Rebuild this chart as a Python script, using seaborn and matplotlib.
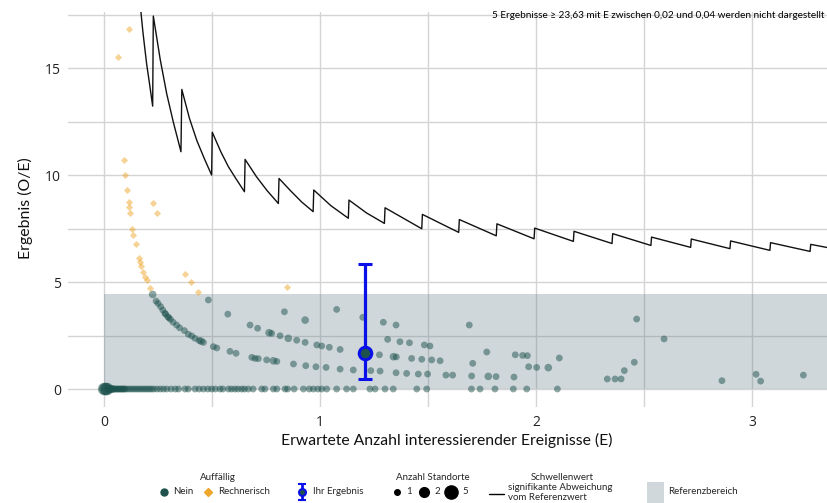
import numpy as np
import pandas as pd
import matplotlib
matplotlib.use("Agg")
import matplotlib.pyplot as plt
import seaborn as sns
from matplotlib.patches import Rectangle

# ---------------- data ----------------
# hospitals "Nein" (not conspicuous) with O/E > 0
nein_E = [0.225, 0.241, 0.25, 0.262, 0.272, 0.282, 0.285, 0.295, 0.30, 0.307, 0.32, 0.336, 0.35,
          0.372, 0.39, 0.406, 0.421, 0.44, 0.449, 0.46, 0.506, 0.522, 0.583, 0.611, 0.684, 0.699,
          0.714, 0.753, 0.784, 0.80, 0.877, 0.934, 0.981, 1.028, 1.093, 1.154, 1.235, 1.278,
          1.352, 1.401, 1.455, 1.498, 1.583, 1.614, 1.702, 1.779, 1.815, 1.898,
          0.483, 0.573, 0.676, 0.711, 0.764, 0.776, 0.815, 0.853, 0.892, 0.931, 0.985, 1.008,
          1.043, 1.093, 1.275, 1.34, 1.353, 1.424, 1.471, 1.517, 1.556, 1.707, 1.966, 2.003, 2.057,
          0.835, 0.931, 1.077, 1.198, 1.293, 1.352, 1.313, 1.370, 1.414, 1.483, 1.509, 1.691,
          1.772, 1.904, 1.938, 1.96, 2.108, 2.33, 2.366, 2.394, 2.409, 2.455, 2.466, 2.593,
          2.861, 3.019, 3.04, 3.238]
nein_OE = [4.42, 4.11, 4.0, 3.85, 3.69, 3.54, 3.5, 3.38, 3.33, 3.26, 3.12, 2.99, 2.86,
           2.73, 2.56, 2.48, 2.37, 2.27, 2.24, 2.18, 1.98, 1.92, 1.76, 1.67, 1.48, 1.43,
           1.42, 1.36, 1.32, 1.29, 1.17, 1.09, 1.04, 1.01, 0.93, 0.89, 0.86, 0.84,
           0.76, 0.73, 0.70, 0.70, 0.65, 0.65, 0.61, 0.59, 0.58, 0.56,
           4.16, 3.50, 2.99, 2.84, 2.63, 2.60, 2.49, 2.37, 2.28, 2.18, 2.06, 2.01,
           1.95, 1.85, 1.60, 1.51, 1.50, 1.43, 1.39, 1.36, 1.32, 1.20, 1.04, 1.01, 1.00,
           3.61, 3.22, 3.72, 3.35, 3.12, 2.99, 2.32, 2.21, 2.16, 2.06, 2.01, 2.99,
           1.73, 1.60, 1.57, 1.56, 1.45, 0.47, 0.47, 0.47, 0.86, 1.25, 3.27, 2.34,
           0.39, 0.69, 0.37, 0.65]
nein_n = [2, 1, 1, 1, 1, 1, 1, 1, 1, 1, 1, 1, 1,
          1, 1, 1, 1, 1, 2, 1, 1, 1, 1, 1, 1, 1,
          1, 1, 2, 1, 1, 1, 1, 1, 1, 1, 1, 1,
          1, 1, 1, 1, 1, 1, 1, 2, 1, 1,
          1, 1, 1, 1, 2, 1, 1, 2, 1, 1, 1, 1,
          1, 1, 1, 2, 1, 1, 1, 1, 1, 1, 1, 1, 2,
          1, 2, 1, 1, 1, 1, 1, 1, 1, 1, 1, 1,
          1, 1, 1, 1, 1, 1, 1, 1, 1, 1, 1, 1,
          1, 1, 1, 1]

# hospitals "Nein" with O/E = 0
zero_E = [0.0, 0.005, 0.01, 0.015, 0.02, 0.025, 0.03, 0.035, 0.04, 0.045, 0.05, 0.055, 0.06,
          0.065, 0.07, 0.075, 0.08, 0.085, 0.09, 0.095, 0.10, 0.11, 0.12, 0.13, 0.14, 0.15,
          0.16, 0.17, 0.18, 0.19, 0.20, 0.21, 0.22, 0.23, 0.245, 0.26, 0.275, 0.29, 0.31,
          0.33, 0.345, 0.375, 0.39, 0.421, 0.44, 0.46, 0.48, 0.498, 0.515, 0.537, 0.55, 0.576,
          0.59, 0.606, 0.62, 0.637, 0.65, 0.668, 0.69, 0.730, 0.745, 0.784, 0.80, 0.838, 0.85,
          0.88, 0.923, 0.95, 0.969, 0.99, 1.008, 1.031, 1.077, 1.123, 1.154, 1.231, 1.255,
          1.301, 1.339, 1.448, 1.494, 1.701, 1.741, 1.810, 1.895, 1.957, 2.099]
zero_OE = [0.0] * len(zero_E)
zero_n = [5, 5, 5, 5, 2, 2, 2, 2, 2, 1, 1, 1, 1,
          1, 1, 1, 1, 1, 1, 1, 1, 1, 1, 1, 1, 1,
          1, 1, 1, 1, 1, 1, 1, 1, 1, 1, 1, 1, 1,
          1, 1, 1, 1, 1, 1, 1, 1, 1, 1, 1, 1, 1,
          1, 1, 1, 1, 1, 1, 1, 1, 1, 1, 1, 1, 1,
          1, 1, 1, 1, 1, 1, 1, 1, 1, 1, 1, 1,
          1, 1, 1, 1, 1, 1, 1, 1, 1, 1]

# hospitals "Rechnerisch" (arithmetically conspicuous)
rech_E = [0.117, 0.063, 0.091, 0.099, 0.106, 0.114, 0.116, 0.12, 0.131, 0.136, 0.147, 0.16,
          0.167, 0.171, 0.182, 0.19, 0.198, 0.213, 0.228, 0.244, 0.375, 0.401, 0.437, 0.846]
rech_OE = [16.82, 15.51, 10.70, 10.0, 9.30, 8.75, 8.52, 8.21, 7.46, 7.20, 6.78, 6.11,
           5.95, 5.76, 5.45, 5.25, 5.09, 4.73, 8.68, 8.24, 5.36, 4.98, 4.55, 4.75]

# threshold line (significant deviation from reference value)
thr_E = [0.165, 0.18, 0.197, 0.21, 0.225,
         0.228, 0.26, 0.29, 0.32, 0.356,
         0.36, 0.395, 0.43, 0.465, 0.498,
         0.501, 0.54, 0.575, 0.61, 0.650,
         0.653, 0.705, 0.755, 0.807,
         0.810, 0.865, 0.915, 0.968,
         0.971, 1.05, 1.131,
         1.134, 1.215, 1.298,
         1.301, 1.471, 1.474, 1.642, 1.645, 1.816, 1.819, 1.991, 1.994, 2.173, 2.176, 2.352,
         2.355, 2.532, 2.535, 2.716, 2.719, 2.898, 2.901, 3.083, 3.086, 3.269, 3.272, 3.36]
thr_OE = [18.2, 16.67, 15.2, 14.3, 13.22,
          17.43, 15.4, 13.8, 12.5, 11.09,
          14.0, 12.66, 11.6, 10.75, 10.0,
          12.0, 11.1, 10.4, 9.84, 9.22,
          10.73, 9.93, 9.27, 8.67,
          9.84, 9.25, 8.74, 8.29,
          9.30, 8.57, 7.98,
          8.83, 8.23, 7.74,
          8.47, 7.49, 8.16, 7.32, 7.92, 7.16, 7.72, 7.02, 7.52, 6.90, 7.37, 6.80,
          7.26, 6.71, 7.10, 6.62, 7.01, 6.56, 6.92, 6.48, 6.84, 6.43, 6.76, 6.59]

# reference range
ref_E_start = 0.0
ref_low, ref_high = 0.0, 4.43

# own result with confidence interval
res_E, res_OE, res_lo, res_hi = 1.206, 1.69, 0.49, 5.84

x_ticks = [0, 1, 2, 3]
y_ticks = [0, 5, 10, 15]
x_label = "Erwartete Anzahl interessierender Ereignisse (E)"
y_label = "Ergebnis (O/E)"
note = "5 Ergebnisse \u2265 23,63 mit E zwischen 0,02 und 0,04 werden nicht dargestellt"

# ---------------- styling ----------------
TEAL = "#1d524d"
ORANGE = "#eea72a"
BLUE = "#0a10e8"
GRID = "#d4d4d4"

sns.set_theme(style="white")
plt.rcParams["font.family"] = ["Lato", "DejaVu Sans"]

W, H = 828, 503
fig = plt.figure(figsize=(W / 100, H / 100), dpi=100)
ax = fig.add_axes([68 / W, 1 - 407 / H, (W - 68) / W, (407 - 12.4) / H])

nein_df = pd.DataFrame({"E": nein_E + zero_E, "OE": nein_OE + zero_OE,
                        "n": nein_n + zero_n})
rech_df = pd.DataFrame({"E": rech_E, "OE": rech_OE})

# reference band
ax.fill_between([ref_E_start, 10], ref_low, ref_high, color="#627d87", alpha=0.30,
                linewidth=0, zorder=1.5)

sns.scatterplot(data=nein_df, x="E", y="OE", size="n", sizes={1: 24, 2: 30, 5: 80},
                color=TEAL, marker="o", alpha=0.5, linewidth=0, legend=False,
                ax=ax, zorder=3)
sns.scatterplot(data=rech_df, x="E", y="OE", color=ORANGE, marker="D", s=13,
                alpha=0.5, linewidth=0, legend=False, ax=ax, zorder=3)

sns.lineplot(x=thr_E, y=thr_OE, sort=False, estimator=None, color="#111111",
             linewidth=1.0, ax=ax, zorder=4)

ax.errorbar([res_E], [res_OE], yerr=[[res_OE - res_lo], [res_hi - res_OE]], fmt="o",
            color=BLUE, ecolor=BLUE, elinewidth=2.3, capsize=5, capthick=2.3,
            markersize=9, markerfacecolor=TEAL, markeredgecolor=BLUE, markeredgewidth=2.2,
            zorder=6)

ax.set_xlim(-0.167, 3.352)
ax.set_ylim(-0.84, 17.6)
ax.set_xticks(x_ticks)
ax.set_xticks([0.5, 1.5, 2.5], minor=True)
ax.set_yticks(y_ticks)
ax.set_yticks([2.5, 7.5, 12.5, 17.5], minor=True)
ax.set_xticklabels([str(v) for v in x_ticks])
ax.set_yticklabels([str(v) for v in y_ticks])
ax.set_axisbelow(True)
ax.grid(True, which="both", color=GRID, linewidth=1.0)
ax.tick_params(which="both", length=0)
ax.tick_params(axis="x", pad=6, labelsize=10, labelcolor="#222222")
ax.tick_params(axis="y", pad=5, labelsize=10, labelcolor="#222222")
for lab in ax.get_xticklabels() + ax.get_yticklabels():
    lab.set_family(["Open Sans", "DejaVu Sans"])
for s in ax.spines.values():
    s.set_visible(False)
ax.set_xlabel("")
ax.set_ylabel("")

fig.text(25 / W, 1 - 208 / H, y_label, rotation=90, ha="center", va="center",
         fontsize=11.4, color="#111111")
fig.text(447 / W, 1 - 440 / H, x_label, ha="center", va="center", fontsize=11.3,
         color="#111111")
fig.text(825 / W, 1 - 16 / H, note, ha="right", va="center", fontsize=7.2, color="black")

# ---------------- legend (drawn in pixel space) ----------------
lax = fig.add_axes([0, 0, 1, 1])
lax.set_xlim(0, W)
lax.set_ylim(H, 0)
lax.axis("off")
fs = 7
row = 492
lax.text(218, 477, "Auffällig", ha="center", va="center", fontsize=fs)
lax.plot([164], [row], "o", color=TEAL, ms=5)
lax.text(173, row, "Nein", ha="left", va="center", fontsize=fs)
lax.plot([208], [row], "D", color=ORANGE, ms=4)
lax.text(218, row, "Rechnerisch", ha="left", va="center", fontsize=fs)
lax.errorbar([302], [row], yerr=[[8], [8]], fmt="o", color=BLUE, ecolor=BLUE,
             elinewidth=2, capsize=3, capthick=2, ms=5, mfc=TEAL, mec=BLUE, mew=1.5)
lax.text(313, row, "Ihr Ergebnis", ha="left", va="center", fontsize=fs)
lax.text(433, 477, "Anzahl Standorte", ha="center", va="center", fontsize=fs)
for xp, ms, lab in [(397, 4, "1"), (424, 7, "2"), (451, 9.5, "5")]:
    lax.plot([xp], [row], "o", color="black", ms=ms)
    lax.text(xp + 8 + ms * 0.35, row, lab, ha="left", va="center", fontsize=fs)
lax.plot([489, 504], [row + 2, row + 2], color="black", lw=1)
lax.text(562, 477, "Schwellenwert", ha="center", va="center", fontsize=fs)
lax.text(508, 487, "signifikante Abweichung", ha="left", va="center", fontsize=fs)
lax.text(508, 498, "vom Referenzwert", ha="left", va="center", fontsize=fs)
lax.add_patch(Rectangle((647, 482), 17, 21, color="#d1d8db", lw=0))
lax.text(668, row, "Referenzbereich", ha="left", va="center", fontsize=fs)

fig.savefig("out.png", dpi=100)
